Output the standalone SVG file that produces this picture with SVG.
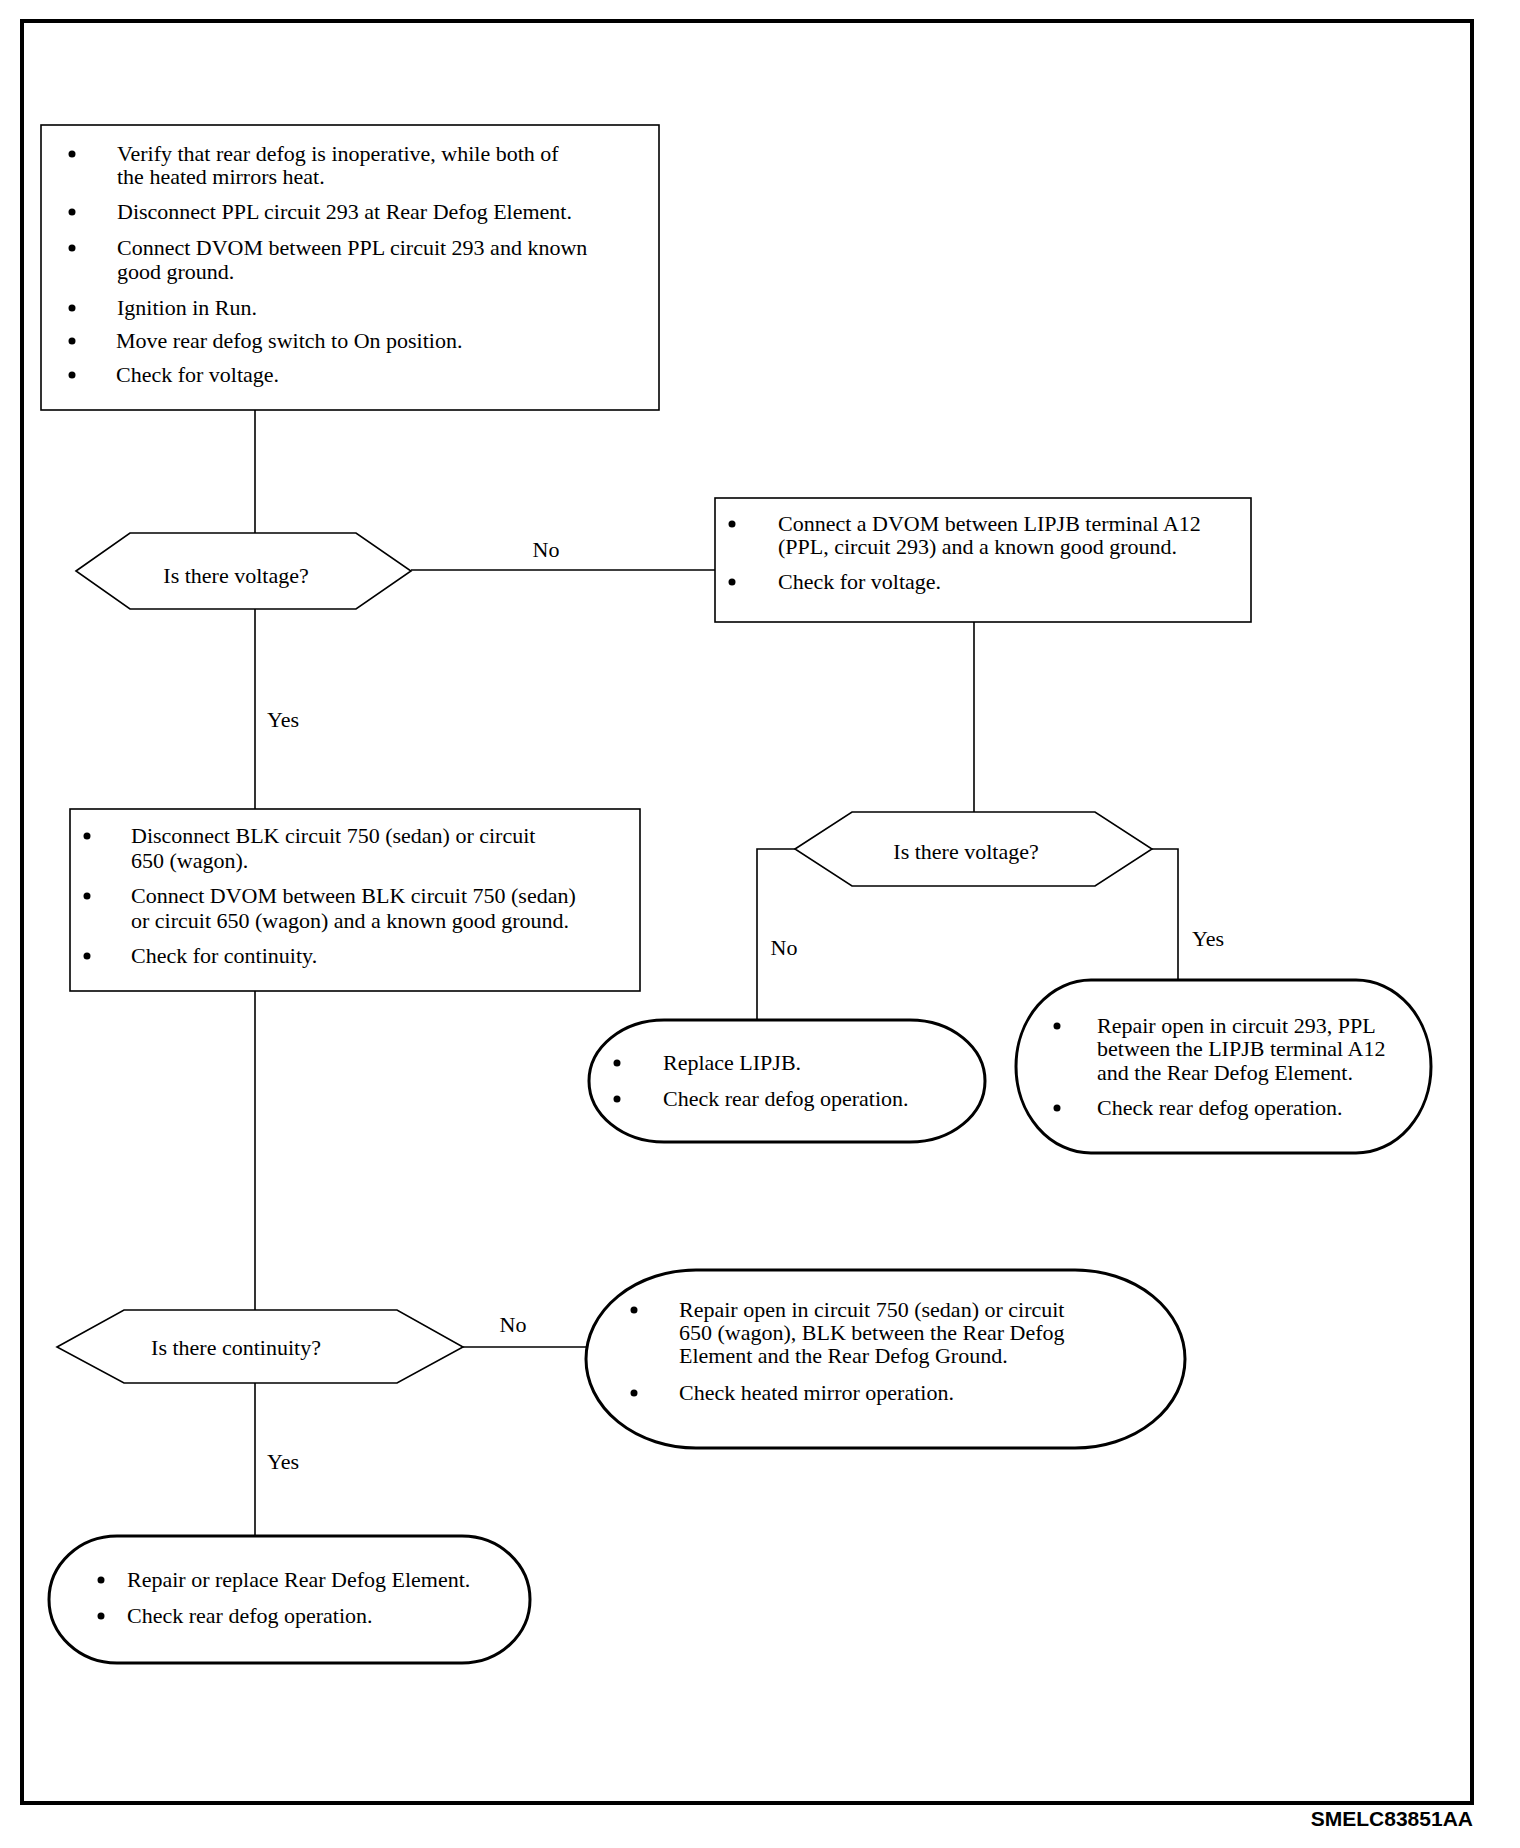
<svg xmlns="http://www.w3.org/2000/svg" width="1520" height="1848" viewBox="0 0 1520 1848">
<style>
.t{font-family:"Liberation Serif","Times New Roman",serif;font-size:22px;fill:#000}
.lbl{font-family:"Liberation Serif","Times New Roman",serif;font-size:22px;fill:#000}
.box{fill:#fff;stroke:#000;stroke-width:1.6}
.hex{fill:#fff;stroke:#000;stroke-width:1.6}
.stad{fill:#fff;stroke:#000;stroke-width:3}
.con{fill:none;stroke:#000;stroke-width:1.6}
.b{fill:#000}
</style>
<rect width="1520" height="1848" fill="#fff"/>
<rect x="22" y="21" width="1450" height="1782" fill="none" stroke="#000" stroke-width="4"/>
<text x="1473" y="1826" text-anchor="end" font-family="Liberation Sans, Arial, sans-serif" font-size="21" font-weight="bold">SMELC83851AA</text>

<g id="connectors">
<path class="con" d="M255 410V533"/>
<path class="con" d="M255 609V809"/>
<path class="con" d="M411 570H715"/>
<path class="con" d="M974 622V812"/>
<path class="con" d="M795 849H757V1020"/>
<path class="con" d="M1152 849H1178V980"/>
<path class="con" d="M255 991V1310"/>
<path class="con" d="M463 1347H587"/>
<path class="con" d="M255 1383V1536"/>
<text class="lbl" x="546" y="557" text-anchor="middle">No</text>
<text class="lbl" x="283" y="727" text-anchor="middle">Yes</text>
<text class="lbl" x="784" y="955" text-anchor="middle">No</text>
<text class="lbl" x="1208" y="946" text-anchor="middle">Yes</text>
<text class="lbl" x="513" y="1332" text-anchor="middle">No</text>
<text class="lbl" x="283" y="1469" text-anchor="middle">Yes</text>
</g>

<g id="box1">
<rect class="box" x="41" y="125" width="618" height="285"/>
<circle class="b" cx="72" cy="154" r="3.5"/>
<text class="t" x="117" y="161">Verify that rear defog is inoperative, while both of</text>
<text class="t" x="117" y="184">the heated mirrors heat.</text>
<circle class="b" cx="72" cy="212" r="3.5"/>
<text class="t" x="117" y="219">Disconnect PPL circuit 293 at Rear Defog Element.</text>
<circle class="b" cx="72" cy="248" r="3.5"/>
<text class="t" x="117" y="255">Connect DVOM between PPL circuit 293 and known</text>
<text class="t" x="117" y="279">good ground.</text>
<circle class="b" cx="72" cy="308" r="3.5"/>
<text class="t" x="117" y="315">Ignition in Run.</text>
<circle class="b" cx="72" cy="341" r="3.5"/>
<text class="t" x="116" y="348">Move rear defog switch to On position.</text>
<circle class="b" cx="72" cy="375" r="3.5"/>
<text class="t" x="116" y="382">Check for voltage.</text>
</g>

<g id="dec1">
<polygon class="hex" points="76,571 130,533 356,533 411,571 356,609 130,609"/>
<text class="t" x="236" y="583" text-anchor="middle">Is there voltage?</text>
</g>

<g id="box2">
<rect class="box" x="715" y="498" width="536" height="124"/>
<circle class="b" cx="732" cy="524" r="3.5"/>
<text class="t" x="778" y="531">Connect a DVOM between LIPJB terminal A12</text>
<text class="t" x="778" y="554">(PPL, circuit 293) and a known good ground.</text>
<circle class="b" cx="732" cy="582" r="3.5"/>
<text class="t" x="778" y="589">Check for voltage.</text>
</g>

<g id="dec2">
<polygon class="hex" points="795,849 852,812 1095,812 1152,849 1095,886 852,886"/>
<text class="t" x="966" y="859" text-anchor="middle">Is there voltage?</text>
</g>

<g id="end_lipjb">
<rect class="stad" x="589" y="1020" width="396" height="122" rx="75" ry="61"/>
<circle class="b" cx="617" cy="1063" r="3.5"/>
<text class="t" x="663" y="1070">Replace LIPJB.</text>
<circle class="b" cx="617" cy="1099" r="3.5"/>
<text class="t" x="663" y="1106">Check rear defog operation.</text>
</g>

<g id="end_293">
<rect class="stad" x="1016" y="980" width="415" height="173" rx="75" ry="86.5"/>
<circle class="b" cx="1057" cy="1026" r="3.5"/>
<text class="t" x="1097" y="1033">Repair open in circuit 293, PPL</text>
<text class="t" x="1097" y="1056">between the LIPJB terminal A12</text>
<text class="t" x="1097" y="1080">and the Rear Defog Element.</text>
<circle class="b" cx="1057" cy="1108" r="3.5"/>
<text class="t" x="1097" y="1115">Check rear defog operation.</text>
</g>

<g id="box3">
<rect class="box" x="70" y="809" width="570" height="182"/>
<circle class="b" cx="87" cy="836" r="3.5"/>
<text class="t" x="131" y="843">Disconnect BLK circuit 750 (sedan) or circuit</text>
<text class="t" x="131" y="868">650 (wagon).</text>
<circle class="b" cx="87" cy="896" r="3.5"/>
<text class="t" x="131" y="903">Connect DVOM between BLK circuit 750 (sedan)</text>
<text class="t" x="131" y="928">or circuit 650 (wagon) and a known good ground.</text>
<circle class="b" cx="87" cy="956" r="3.5"/>
<text class="t" x="131" y="963">Check for continuity.</text>
</g>

<g id="dec3">
<polygon class="hex" points="57,1347 124,1310 397,1310 463,1347 397,1383 124,1383"/>
<text class="t" x="236" y="1355" text-anchor="middle">Is there continuity?</text>
</g>

<g id="end_750">
<rect class="stad" x="586" y="1270" width="599" height="178" rx="110" ry="89"/>
<circle class="b" cx="634" cy="1310" r="3.5"/>
<text class="t" x="679" y="1317">Repair open in circuit 750 (sedan) or circuit</text>
<text class="t" x="679" y="1340">650 (wagon), BLK between the Rear Defog</text>
<text class="t" x="679" y="1363">Element and the Rear Defog Ground.</text>
<circle class="b" cx="634" cy="1393" r="3.5"/>
<text class="t" x="679" y="1400">Check heated mirror operation.</text>
</g>

<g id="end_element">
<rect class="stad" x="49" y="1536" width="481" height="127" rx="68" ry="63.5"/>
<circle class="b" cx="101" cy="1580" r="3.5"/>
<text class="t" x="127" y="1587">Repair or replace Rear Defog Element.</text>
<circle class="b" cx="101" cy="1616" r="3.5"/>
<text class="t" x="127" y="1623">Check rear defog operation.</text>
</g>
</svg>
